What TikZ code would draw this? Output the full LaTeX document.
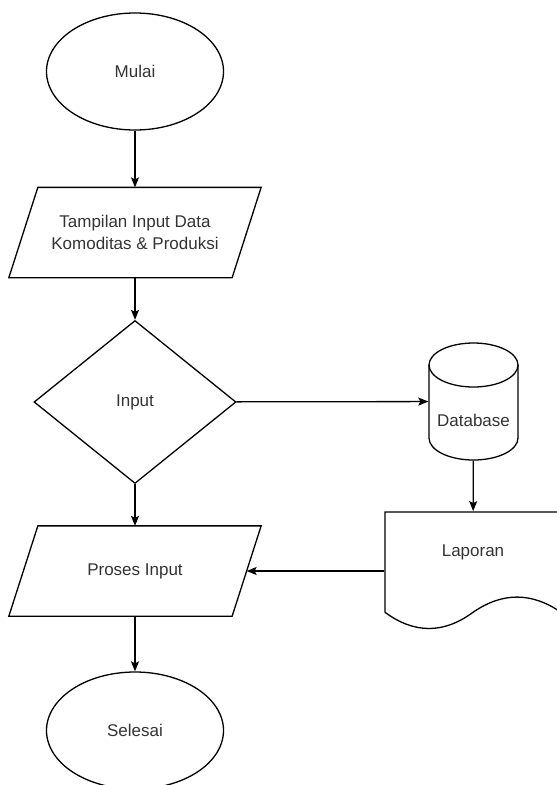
\documentclass[tikz,border=0pt]{standalone}
\usepackage{fontspec}
\setmainfont{Liberation Sans}
\usetikzlibrary{shapes.geometric,arrows.meta}
\definecolor{txtgray}{HTML}{333333}
\begin{document}
\begin{tikzpicture}[x=1pt, y=-1pt, line width=1.3pt,
    every node/.style={font=\fontsize{17}{22}\selectfont, text=txtgray, inner sep=0pt},
    terminal/.style={ellipse, draw, minimum width=177pt, minimum height=117pt},
    iobox/.style={minimum width=251pt, minimum height=89pt, align=center},
    decision/.style={diamond, draw, aspect=1.24, minimum width=202pt, minimum height=163pt},
    storebox/.style={minimum width=89pt, minimum height=117pt},
    docbox/.style={minimum width=176pt, minimum height=118.5pt},
    arrow/.style={-{Stealth[length=10pt, width=8pt, inset=2pt]}}]
  \useasboundingbox (0,0) rectangle (557,785);

  \node[terminal] (mulai) at (135,71.5) {Mulai};
  \node[iobox] (tampil) at (135,232.5) {Tampilan Input Data\\Komoditas \& Produksi};
  \node[decision] (input) at (135,402) {Input};
  \node[iobox] (proses) at (135,571) {Proses Input};
  \node[terminal] (selesai) at (135,730.5) {Selesai};

  % parallelograms
  \foreach \p in {tampil,proses}
    \draw (\p.south west) -- ([xshift=29pt]\p.north west) -- (\p.north east)
      -- ([xshift=-29pt]\p.south east) -- cycle;

  % database
  \node[storebox, label={[yshift=-18.5pt]center:Database}] (db) at (473.5,401.5) {};
  \draw (473.5,365) ellipse [x radius=44.5pt, y radius=22pt];
  \draw (429,365) -- (429,438) arc[start angle=180, end angle=360, x radius=44.5pt, y radius=22pt] -- (518,365);

  % laporan
  \node[docbox, label={[yshift=19pt]center:Laporan}] (lap) at (473,571) {};
  \draw (385,612.3) -- (385,512) -- (561,512) -- (561,612.3)
    .. controls (531.7,592) and (502.3,592) .. (473,612.3)
    .. controls (443.7,633.9) and (414.3,633.9) .. (385,612.3);

  \draw[arrow] (mulai) -- (tampil);
  \draw[arrow] (tampil) -- (input);
  \draw[arrow] (input) -- (proses);
  \draw[arrow] (proses) -- (selesai);
  \draw[arrow] (input) -- (db);
  \draw[arrow] (db) -- (lap);
  \draw[arrow] (lap) -- ([xshift=-14.5pt]proses.east);
\end{tikzpicture}
\end{document}
